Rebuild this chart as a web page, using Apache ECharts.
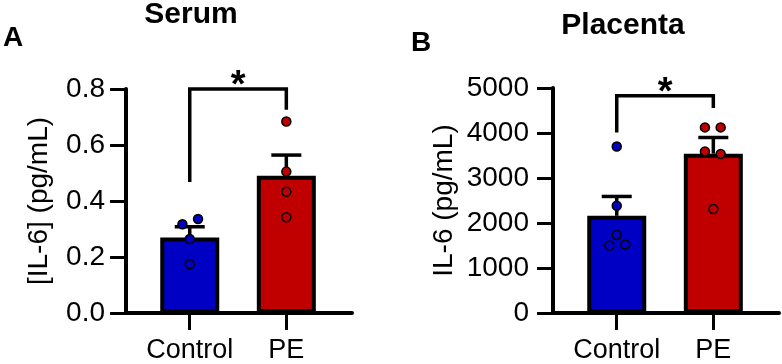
<!DOCTYPE html>
<html>
<head>
<meta charset="utf-8">
<script src="https://cdn.jsdelivr.net/npm/echarts@6/dist/echarts.min.js"></script>
<style>
  html, body { margin: 0; background: #fff; }
  #chart { width: 782px; height: 364px; }
</style>
</head>
<body>
<div id="chart"></div>
<script>
// groups on the x axis (placed at x = 1, 2)
const groups = ['Control', 'PE'];
const groupColors = ['#0000c4', '#c00000'];

// Serum panel
const serumTickLabels = ['0.0', '0.2', '0.4', '0.6', '0.8'];
const serumMean = [0.27, 0.49];
const serumSemTop = [0.308, 0.564];
const serumControl = [0.317, 0.336, 0.264, 0.174];
const serumPE = [0.684, 0.505, 0.433, 0.342];
// bracket: [from group, to group, top, left leg end, right leg end]
const serumSig = [1, 2, 0.8, 0.468, 0.726];

// Placenta panel
const placentaTickLabels = ['0', '1000', '2000', '3000', '4000', '5000'];
const placentaMean = [2160, 3540];
const placentaSemTop = [2590, 3900];
const placentaControl = [3700, 2385, 1735, 1500, 1520];
const placentaPE = [4125, 4125, 3590, 3535, 2310];
const placentaSig = [1, 2, 4830, 4010, 4555];

// horizontal spread of the dots (in group units)
const serumJitter = [[-0.076, 0.086, 0, 0], [0, 0, 0, 0]];
const placentaJitter = [[0, 0, 0, -0.077, 0.089], [-0.087, 0.076, -0.087, 0.076, 0]];

const FONT = '"Liberation Sans", Arial, sans-serif';
const BLACK = '#000';

function xAxisFor(gridIndex) {
  return {
    type: 'value',
    gridIndex,
    min: 0.34,
    max: 2.68,
    axisLine: { show: true, onZero: false, lineStyle: { color: BLACK, width: 4 } },
    axisTick: { show: true, customValues: [1, 2], length: 17, lineStyle: { color: BLACK, width: 3 } },
    axisLabel: {
      customValues: [1, 2],
      formatter: (v) => groups[Math.round(v) - 1],
      margin: 24,
      fontSize: 27,
      color: BLACK,
      fontFamily: FONT,
    },
    splitLine: { show: false },
  };
}

function yAxisFor(gridIndex, max, interval, labels, name, nameGap, labelMargin) {
  return {
    type: 'value',
    gridIndex,
    min: 0,
    max,
    interval,
    axisLine: { show: true, onZero: false, lineStyle: { color: BLACK, width: 4 } },
    axisTick: { show: true, length: 16, lineStyle: { color: BLACK, width: 3 } },
    axisLabel: {
      formatter: (v, i) => labels[i],
      margin: labelMargin,
      fontSize: 28,
      color: BLACK,
      fontFamily: FONT,
    },
    splitLine: { show: false },
    name,
    nameLocation: 'middle',
    nameGap,
    nameTextStyle: { fontSize: 28, color: BLACK, fontFamily: FONT },
  };
}

function barSeries(idx, means) {
  return {
    type: 'bar',
    xAxisIndex: idx,
    yAxisIndex: idx,
    barWidth: 59,
    data: means.map((m, i) => ({
      value: [i + 1, m],
      itemStyle: { color: groupColors[i] },
    })),
    itemStyle: { borderColor: BLACK, borderWidth: 4 },
    z: 2,
  };
}

function errorSeries(idx, means, tops) {
  return {
    type: 'custom',
    xAxisIndex: idx,
    yAxisIndex: idx,
    data: means.map((m, i) => [i + 1, m, tops[i]]),
    renderItem: (params, api) => {
      const lo = api.coord([api.value(0), api.value(1)]);
      const hi = api.coord([api.value(0), api.value(2)]);
      const st = { stroke: BLACK, lineWidth: 3.5 };
      return {
        type: 'group',
        children: [
          { type: 'line', shape: { x1: lo[0], y1: lo[1], x2: hi[0], y2: hi[1] }, style: st },
          { type: 'line', shape: { x1: hi[0] - 15, y1: hi[1], x2: hi[0] + 15, y2: hi[1] }, style: st },
        ],
      };
    },
    z: 3,
  };
}

function dotSeries(idx, values, jitter) {
  const data = [];
  values.forEach((vals, g) => {
    vals.forEach((v, k) => {
      data.push({ value: [g + 1 + jitter[g][k], v], itemStyle: { color: groupColors[g] } });
    });
  });
  return {
    type: 'scatter',
    xAxisIndex: idx,
    yAxisIndex: idx,
    symbol: 'circle',
    symbolSize: 9,
    itemStyle: { borderColor: BLACK, borderWidth: 1.5, opacity: 1 },
    data,
    z: 4,
  };
}

function sigSeries(idx, sig) {
  return {
    type: 'custom',
    xAxisIndex: idx,
    yAxisIndex: idx,
    data: [sig],
    renderItem: (params, api) => {
      const a = api.coord([api.value(0), api.value(3)]);
      const b = api.coord([api.value(0), api.value(2)]);
      const c = api.coord([api.value(1), api.value(2)]);
      const d = api.coord([api.value(1), api.value(4)]);
      return {
        type: 'group',
        children: [
          {
            type: 'polyline',
            shape: { points: [a, b, c, d] },
            style: { stroke: BLACK, lineWidth: 3.5, fill: null },
          },
          {
            type: 'text',
            style: {
              text: '*',
              x: (b[0] + c[0]) / 2,
              y: b[1] - 2,
              align: 'center',
              verticalAlign: 'middle',
              font: 'bold 38px ' + FONT,
              fill: BLACK,
            },
          },
        ],
      };
    },
    z: 5,
  };
}

function label(text, x, y, size, align) {
  return {
    type: 'text',
    style: {
      text,
      x,
      y,
      align,
      verticalAlign: 'middle',
      font: 'bold ' + size + 'px ' + FONT,
      fill: BLACK,
    },
  };
}

const chart = echarts.init(document.getElementById('chart'), null, { renderer: 'canvas' });

chart.setOption({
  animation: false,
  backgroundColor: '#fff',
  textStyle: { fontFamily: FONT },
  grid: [
    { left: 126, top: 89, width: 226, height: 225 },
    { left: 553, top: 88, width: 226, height: 225 },
  ],
  xAxis: [xAxisFor(0), xAxisFor(1)],
  yAxis: [
    yAxisFor(0, 0.8, 0.2, serumTickLabels, '[IL-6] (pg/mL)', 73, 21),
    yAxisFor(1, 5000, 1000, placentaTickLabels, 'IL-6 (pg/mL)', 95, 24),
  ],
  graphic: [
    label('Serum', 191, 15, 30, 'center'),
    label('Placenta', 623, 26, 30, 'center'),
    label('A', 3, 38, 28, 'left'),
    label('B', 411, 43, 28, 'left'),
  ],
  series: [
    barSeries(0, serumMean),
    errorSeries(0, serumMean, serumSemTop),
    dotSeries(0, [serumControl, serumPE], serumJitter),
    sigSeries(0, serumSig),
    barSeries(1, placentaMean),
    errorSeries(1, placentaMean, placentaSemTop),
    dotSeries(1, [placentaControl, placentaPE], placentaJitter),
    sigSeries(1, placentaSig),
  ],
});
</script>
</body>
</html>
